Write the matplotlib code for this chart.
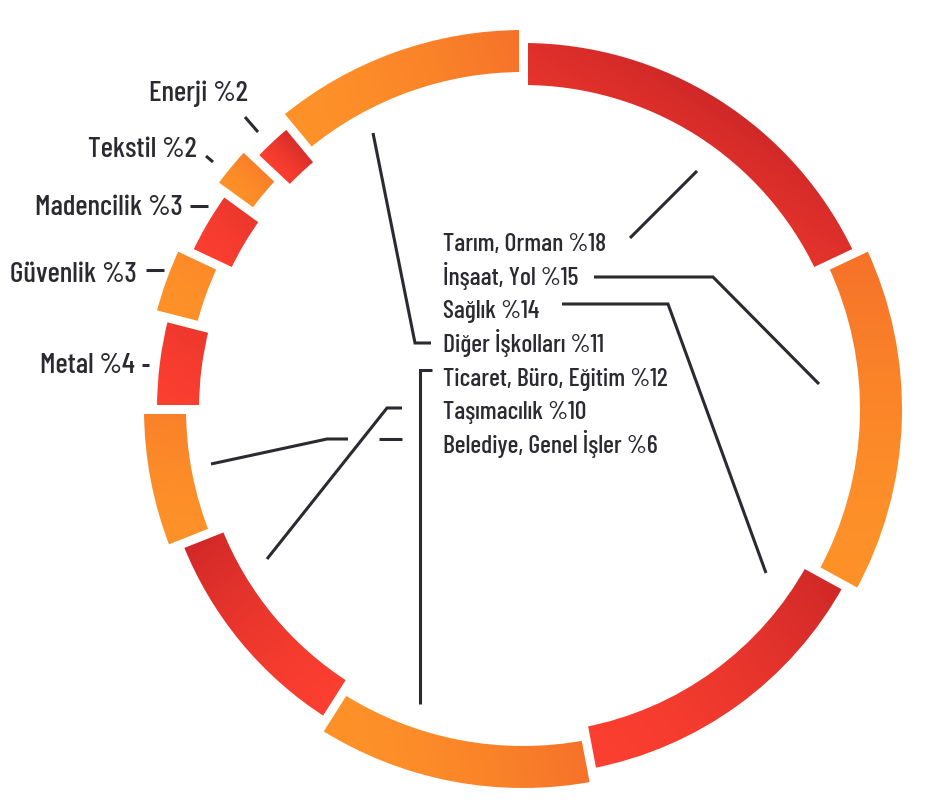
import numpy as np
import matplotlib
matplotlib.use("Agg")
import matplotlib.pyplot as plt
from matplotlib.patches import Wedge
from matplotlib.colors import LinearSegmentedColormap

# =====================================
# DATA
# =====================================
sectors = [
    "Tarım, Orman", "İnşaat, Yol", "Sağlık", "Ticaret, Büro, Eğitim",
    "Taşımacılık", "Belediye, Genel İşler", "Metal", "Güvenlik",
    "Madencilik", "Tekstil", "Enerji", "Diğer İşkolları",
]
shares = [18, 15, 14, 12, 10, 6, 4, 3, 3, 2, 2, 11]

# order of the labels in the centre block
center_order = [
    "Tarım, Orman", "İnşaat, Yol", "Sağlık", "Diğer İşkolları",
    "Ticaret, Büro, Eğitim", "Taşımacılık", "Belediye, Genel İşler",
]
# small sectors labelled on the outer left side
side_order = ["Enerji", "Tekstil", "Madencilik", "Güvenlik", "Metal"]

# =====================================
# STYLE / LAYOUT (pixel coordinates, y down)
# =====================================
FONT = ["Barlow Condensed", "Barlow Semi Condensed", "DejaVu Sans"]
TEXT_COLOR = "#2a2a30"
LINE_COLOR = "#2a2a30"

cx, cy = 523, 409
ring_width = 42
gap_px = 9
outer_r = {"red": 366, "orange": 379}
cmaps = {
    "red": LinearSegmentedColormap.from_list("r", ["#fb3f30", "#cf2828"]),
    "orange": LinearSegmentedColormap.from_list("o", ["#fe9228", "#f6712a"]),
}
# direction (visual degrees, ccw from east) in which each segment darkens
dark_dir = [57, 90, 36, 10, 130, 80, 60, 50, 45, 45, 45, 20]
gammas = [2.6, 1.6, 1.6, 1.6, 1.6, 1.6, 1.6, 1.6, 1.6, 1.6, 1.6, 1.6]

center_x = 443
center_base0 = 251
center_step = 33.7

side_pos = {
    "Enerji": (248, 101),
    "Tekstil": (197, 157),
    "Madencilik": (183, 215),
    "Güvenlik": (137, 282),
    "Metal": (135, 373),
}
side_ticks = {
    "Enerji": [(245, 117), (258, 132)],
    "Tekstil": [(206, 156), (213, 162)],
    "Madencilik": [(190, 206), (208, 206)],
    "Güvenlik": [(146, 270), (164, 270)],
    "Metal": [(142, 365), (149, 365)],
}
leaders = [
    [(630, 238), (697, 171)],
    [(594, 277), (713, 277), (819, 384)],
    [(562, 304), (668, 304), (766, 573)],
    [(431, 343), (415, 343), (373, 133)],
    [(432, 370), (420, 370), (420, 704)],
    [(402, 408), (387, 408), (267, 559)],
    [(402, 439), (379, 439)],
    [(348, 439), (327, 439), (211, 464)],
]

# =====================================
# FIGURE
# =====================================
fig = plt.figure(figsize=(9.42, 8), dpi=100)
ax = fig.add_axes([0, 0, 1, 1])
ax.set_xlim(0, 942)
ax.set_ylim(800, 0)
ax.axis("off")

# =====================================
# RING SEGMENTS WITH GRADIENTS
# =====================================
bounds = -90 + 360 * np.concatenate([[0], np.cumsum(shares)]) / 100.0

for i, share in enumerate(shares):
    tone = "red" if i % 2 == 0 else "orange"
    r_out = outer_r[tone]
    w = Wedge((cx, cy), r_out, bounds[i], bounds[i + 1], width=ring_width,
              facecolor="none", edgecolor="none")
    ax.add_patch(w)

    verts = w.get_path().vertices
    x0, y0 = verts.min(axis=0)
    x1, y1 = verts.max(axis=0)
    phi = np.deg2rad(dark_dir[i])
    d = np.array([np.cos(phi), -np.sin(phi)])
    proj = verts @ d
    xs = np.linspace(x0, x1, 200)
    ys = np.linspace(y0, y1, 200)
    X, Y = np.meshgrid(xs, ys)
    t = (X * d[0] + Y * d[1] - proj.min()) / (proj.max() - proj.min())
    t = np.clip(t, 0, 1) ** gammas[i]
    im = ax.imshow(t, cmap=cmaps[tone], vmin=0, vmax=1,
                   extent=(x0, x1, y0, y1), origin="lower",
                   interpolation="bilinear", zorder=1)
    im.set_clip_path(w)

# white gaps between segments
gap_lw = gap_px * 72 / 100
for b in bounds[:-1]:
    a = np.deg2rad(b)
    r0 = min(outer_r.values()) - ring_width - 6
    r1 = max(outer_r.values()) + 6
    ax.plot([cx + r0 * np.cos(a), cx + r1 * np.cos(a)],
            [cy + r0 * np.sin(a), cy + r1 * np.sin(a)],
            color="white", lw=gap_lw, solid_capstyle="butt", zorder=2)

# =====================================
# LABELS
# =====================================
share_of = dict(zip(sectors, shares))

for k, name in enumerate(center_order):
    ax.text(center_x, center_base0 + center_step * k,
            f"{name} %{share_of[name]}",
            ha="left", va="baseline", fontsize=18.5, family=FONT,
            weight="medium", color=TEXT_COLOR, zorder=3)

for name in side_order:
    x, y = side_pos[name]
    ax.text(x, y, f"{name} %{share_of[name]}",
            ha="right", va="baseline", fontsize=21, family=FONT,
            weight="medium", color=TEXT_COLOR, zorder=3)
    (ax_, ay_), (bx_, by_) = side_ticks[name]
    ax.plot([ax_, bx_], [ay_, by_], color=LINE_COLOR, lw=2.2,
            solid_capstyle="butt", zorder=3)

# =====================================
# LEADER LINES
# =====================================
for path in leaders:
    px = [p[0] for p in path]
    py = [p[1] for p in path]
    ax.plot(px, py, color=LINE_COLOR, lw=2.2, solid_capstyle="butt",
            solid_joinstyle="miter", zorder=3)

ax.set_xlim(0, 942)
ax.set_ylim(800, 0)

fig.savefig("out.png", dpi=100, facecolor="white")
